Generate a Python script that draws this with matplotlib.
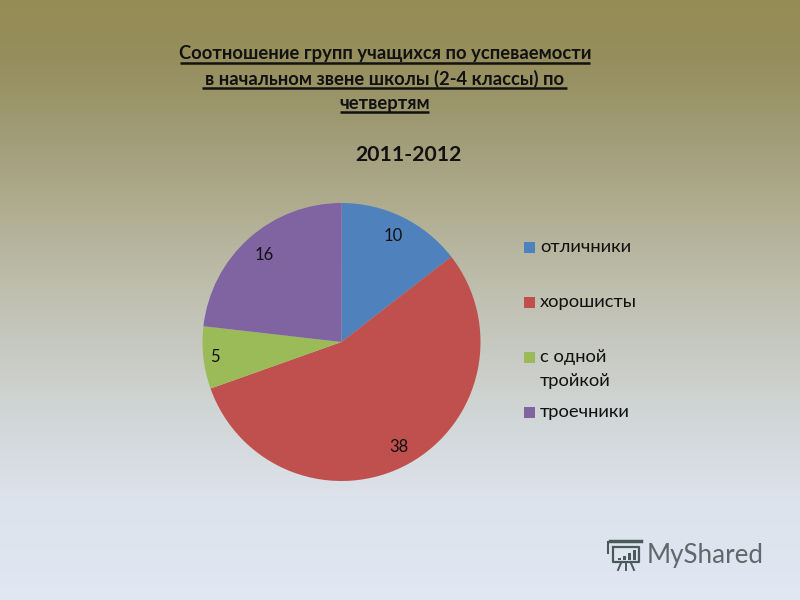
import numpy as np
import matplotlib
matplotlib.use('Agg')
import matplotlib.pyplot as plt
from matplotlib.patches import Rectangle

plt.rcParams['font.family'] = ['Lato', 'Open Sans', 'DejaVu Sans']

title_lines = ['Соотношение групп учащихся по успеваемости',
               'в начальном звене школы (2-4 классы) по',
               'четвертям']
subtitle = '2011-2012'
categories = ['отличники', 'хорошисты', 'с одной\nтройкой', 'троечники']
values = [10, 38, 5, 16]
colors = ['#4F81BD', '#C0504D', '#9BBB59', '#8064A2']
watermark = 'MyShared'

W, H = 800, 600
fig = plt.figure(figsize=(8, 6), dpi=100)

# background gradient, whole slide in pixel coordinates
bg = fig.add_axes([0, 0, 1, 1])
stops_y = [0, 60, 130, 200, 300, 400, 500, 600]
stops_c = np.array([[149, 140, 85], [150, 142, 92], [160, 155, 118], [174, 171, 141],
                    [192, 193, 178], [207, 211, 210], [221, 227, 236], [225, 231, 243]]) / 255
ys = np.arange(H)
grad = np.stack([np.interp(ys, stops_y, stops_c[:, i]) for i in range(3)], axis=1)
bg.imshow(grad[:, None, :], aspect='auto', extent=[0, W, H, 0], interpolation='bilinear')
bg.set_xlim(0, W)
bg.set_ylim(H, 0)
bg.axis('off')

# title with underlines
title_y = [54, 79, 103]
under_x = [(180, 590), (202, 567), (340, 429)]
under_y = [62.5, 87.5, 112]
for line, y, (x0, x1), uy in zip(title_lines, title_y, under_x, under_y):
    bg.text(385, y, line, ha='center', va='center', fontsize=13.2, fontweight='bold', color='#111111')
    bg.plot([x0, x1], [uy, uy], color='#111111', lw=1.8, solid_capstyle='butt')
bg.text(408, 155, subtitle, ha='center', va='center', fontsize=15.2, fontweight='bold', color='#111111')

# pie
cx, cy, r = 341.5, 342, 139
ax = fig.add_axes([(cx - r) / W, 1 - (cy + r) / H, 2 * r / W, 2 * r / H])
wedges, _ = ax.pie(values, colors=colors, startangle=90, counterclock=False, radius=1)
ax.set_xlim(-1, 1)
ax.set_ylim(-1, 1)
label_r = [0.85, 0.86, 0.92, 0.84]
for w, v, lr in zip(wedges, values, label_r):
    a = np.deg2rad((w.theta1 + w.theta2) / 2)
    ax.text(lr * np.cos(a), lr * np.sin(a), str(v), ha='center', va='center', fontsize=12, color='#111111')

# legend
legend_y = [247, 302, 357, 412]
for c, name, y in zip(colors, categories, legend_y):
    bg.add_patch(Rectangle((524, y - 5), 11, 11, color=c, lw=0))
    bg.text(540, y - 8, name, ha='left', va='top', fontsize=13.2, color='#111111', linespacing=1.62)

# watermark logo
logo = '#4A5A5C'
bg.plot([613, 639, 639, 613, 613], [547, 547, 562, 562, 547], color=logo, lw=1.6)
bg.plot([610, 641], [541, 541], color=logo, lw=2.5)
bg.plot([608, 608], [542, 553], color=logo, lw=1.5)
for x0, x1 in [(621, 618), (626, 626), (631, 634)]:
    bg.plot([x0, x1], [563, 570], color=logo, lw=1.4)
for x, h in [(618, 2), (623, 4), (628, 7), (633, 10)]:
    bg.add_patch(Rectangle((x, 560 - h), 2.5, h, color=logo, lw=0))
bg.text(647, 555, watermark, ha='left', va='center', fontsize=18.7, color='#5F686C')

fig.savefig('out.png', dpi=100)
